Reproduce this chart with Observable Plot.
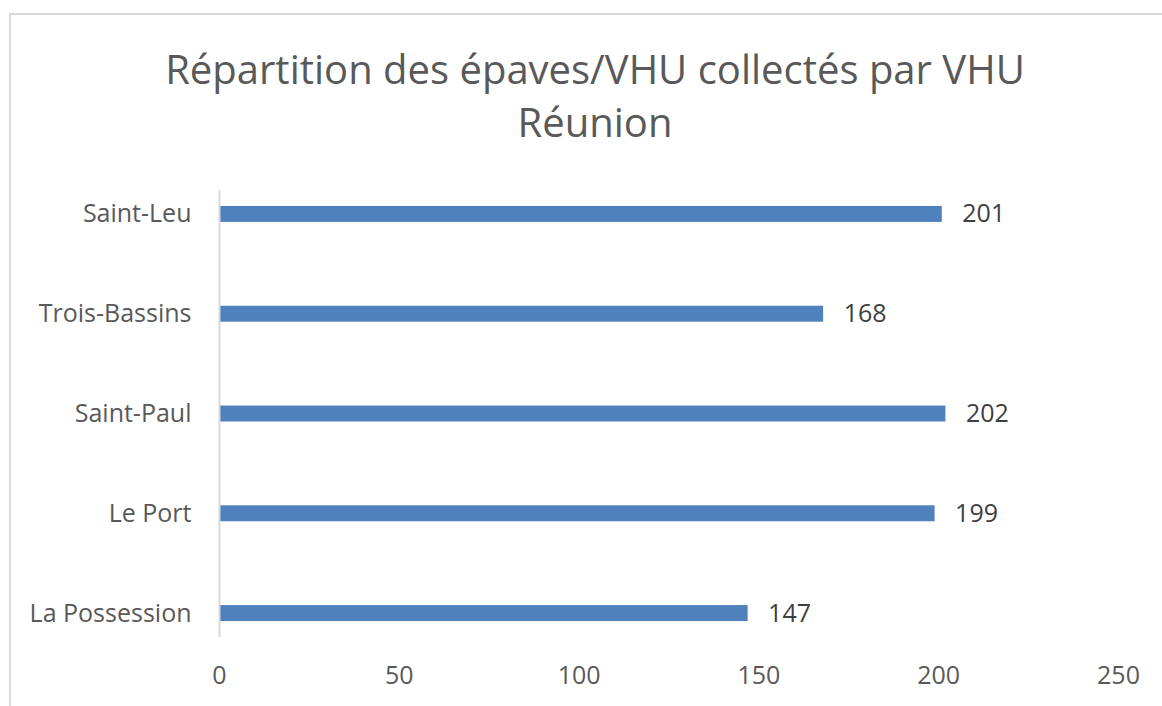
<!DOCTYPE html>
<html>
<head>
<meta charset="utf-8">
<script src="https://cdn.jsdelivr.net/npm/d3@7"></script>
<script src="https://cdn.jsdelivr.net/npm/@observablehq/plot@0.6"></script>
<style>
  html, body { margin: 0; padding: 0; background: #fff; }
  #wrap { position: relative; width: 1162px; height: 706px; overflow: hidden; font-family: "Open Sans", sans-serif; }
  #frame { position: absolute; left: 9px; top: 13px; width: 1200px; height: 800px; border-left: 2px solid #d9d9d9; border-top: 2px solid #d9d9d9; box-sizing: border-box; }
  #title { position: absolute; left: 0; width: 1190px; top: 42px; text-align: center; color: #595959; font-size: 40px; line-height: 53px; }
  #chart { position: absolute; left: 0; top: 150px; }
</style>
</head>
<body>
<div id="wrap">
  <div id="frame"></div>
  <div id="title">Répartition des épaves/VHU collectés par VHU<br>Réunion</div>
  <div id="chart"></div>
</div>
<script>
const communes = ["Saint-Leu", "Trois-Bassins", "Saint-Paul", "Le Port", "La Possession"];
const vhu = [201, 168, 202, 199, 147];
const xTicks = [0, 50, 100, 150, 200, 250];

const data = communes.map((c, i) => ({commune: c, value: vhu[i]}));

const chart = Plot.plot({
  width: 1162,
  height: 556,
  marginTop: 40,
  marginBottom: 69,
  marginLeft: 219,
  marginRight: 44,
  style: { fontFamily: "Open Sans, sans-serif", fontSize: "25px", color: "#595959", background: "transparent" },
  x: { domain: [0, 250], ticks: xTicks, label: null },
  y: { domain: communes, paddingInner: 0.84, paddingOuter: 0.16, round: false, label: null },
  marks: [
    Plot.barX(data, { x: "value", y: "commune", fill: "#4f81bd" }),
    Plot.ruleX([0], { stroke: "#d9d9d9", strokeWidth: 2 }),
    Plot.axisX({ ticks: xTicks, tickSize: 0, tickPadding: 29, fontSize: 25, fill: "#595959", label: null }),
    Plot.axisY({ tickSize: 0, tickPadding: 28, fontSize: 25, fill: "#595959", label: null }),
    Plot.text(data, { x: "value", y: "commune", text: d => String(d.value), textAnchor: "start", dx: 20, fontSize: 25, fill: "#404040" })
  ]
});
document.getElementById("chart").appendChild(chart);
</script>
</body>
</html>
